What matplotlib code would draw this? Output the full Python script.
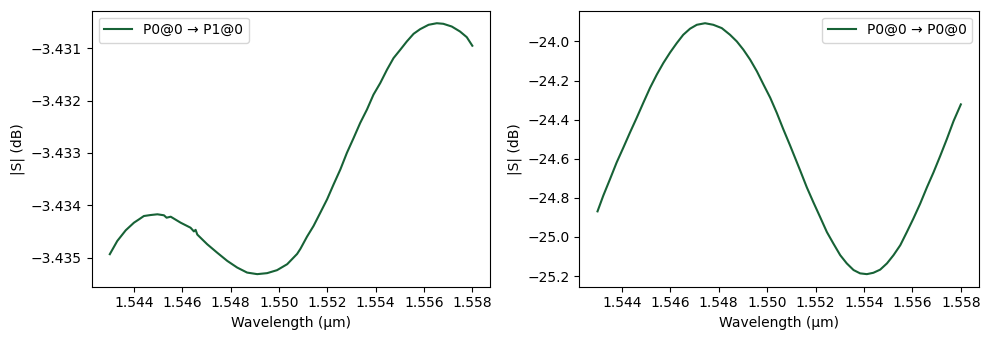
import matplotlib
matplotlib.use("Agg")
import matplotlib.pyplot as plt

# Left panel: P0@0 -> P1@0
wl_left = [1.54300, 1.54331, 1.54366, 1.54400, 1.54421, 1.54441, 1.54469, 1.54497,
           1.54524, 1.54535, 1.54552, 1.54593, 1.54634, 1.54648, 1.54655, 1.54662,
           1.54703, 1.54744, 1.54786, 1.54827, 1.54868, 1.54910, 1.54951, 1.54992,
           1.55034, 1.55075, 1.55089, 1.55116, 1.55143, 1.55171, 1.55199, 1.55226,
           1.55254, 1.55281, 1.55309, 1.55336, 1.55364, 1.55391, 1.55419, 1.55447,
           1.55474, 1.55502, 1.55529, 1.55557, 1.55584, 1.55619, 1.55653, 1.55680,
           1.55715, 1.55749, 1.55777, 1.55800]
s_left = [-3.434935, -3.434682, -3.434478, -3.434333, -3.434269, -3.434206, -3.434187, -3.434173,
          -3.434192, -3.434238, -3.434219, -3.434333, -3.434429, -3.434500, -3.434470, -3.434560,
          -3.434745, -3.434905, -3.435063, -3.435190, -3.435286, -3.435316, -3.435297, -3.435240,
          -3.435126, -3.434930, -3.434830, -3.434600, -3.434396, -3.434143, -3.433888, -3.433602,
          -3.433316, -3.433000, -3.432714, -3.432429, -3.432173, -3.431888, -3.431667, -3.431411,
          -3.431190, -3.431030, -3.430872, -3.430726, -3.430638, -3.430554, -3.430524, -3.430535,
          -3.430587, -3.430682, -3.430790, -3.430954]

# Right panel: P0@0 -> P0@0
wl_right = [1.54300, 1.54324, 1.54352, 1.54379, 1.54407, 1.54434, 1.54462, 1.54489,
            1.54517, 1.54545, 1.54572, 1.54600, 1.54627, 1.54654, 1.54682, 1.54710,
            1.54744, 1.54778, 1.54813, 1.54847, 1.54875, 1.54902, 1.54930, 1.54958,
            1.54985, 1.55013, 1.55040, 1.55067, 1.55095, 1.55109, 1.55137, 1.55164,
            1.55191, 1.55219, 1.55247, 1.55274, 1.55302, 1.55329, 1.55357, 1.55384,
            1.55412, 1.55439, 1.55467, 1.55495, 1.55522, 1.55550, 1.55577, 1.55604,
            1.55632, 1.55660, 1.55687, 1.55715, 1.55742, 1.55770, 1.55800]
s_right = [-24.869, -24.788, -24.703, -24.619, -24.542, -24.466, -24.390, -24.314,
           -24.237, -24.169, -24.110, -24.056, -24.009, -23.966, -23.935, -23.915,
           -23.907, -23.915, -23.932, -23.966, -24.000, -24.042, -24.093, -24.153,
           -24.220, -24.288, -24.365, -24.449, -24.532, -24.575, -24.661, -24.746,
           -24.822, -24.898, -24.975, -25.034, -25.093, -25.135, -25.169, -25.186,
           -25.190, -25.183, -25.167, -25.135, -25.093, -25.042, -24.975, -24.906,
           -24.830, -24.746, -24.670, -24.585, -24.500, -24.407, -24.322]

labels = ["P0@0 \u2192 P1@0", "P0@0 \u2192 P0@0"]
xlabel = "Wavelength (\u00b5m)"
ylabel = "|S| (dB)"
xticks = [1.544, 1.546, 1.548, 1.550, 1.552, 1.554, 1.556, 1.558]
color = "#176236"

fig = plt.figure(figsize=(9.9, 3.4), dpi=100)
ax1 = fig.add_axes([0.0926, 0.1568, 0.4028, 0.8118])
ax2 = fig.add_axes([0.5852, 0.1568, 0.4037, 0.8118])

ax1.plot(wl_left, s_left, color=color, lw=1.5, label=labels[0])
ax2.plot(wl_right, s_right, color=color, lw=1.5, label=labels[1])

for ax, loc in ((ax1, "upper left"), (ax2, "upper right")):
    ax.set_xlabel(xlabel)
    ax.set_ylabel(ylabel)
    ax.legend(loc=loc)
    ax.ticklabel_format(axis="y", useOffset=False)
    ax.set_xticks(xticks)

fig.savefig("out.png", dpi=100)
